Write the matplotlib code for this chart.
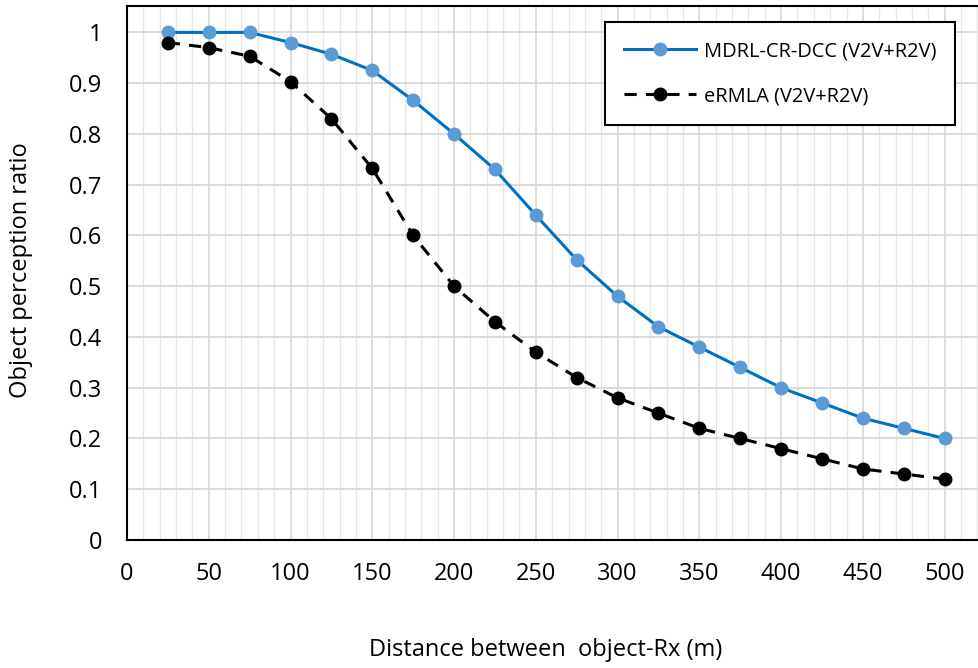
import numpy as np
import matplotlib
matplotlib.use("Agg")
import matplotlib.pyplot as plt
from matplotlib.ticker import MultipleLocator

# ---------------------------------------------------------------------
# Data
# ---------------------------------------------------------------------
distance = [25, 50, 75, 100, 125, 150, 175, 200, 225, 250,
            275, 300, 325, 350, 375, 400, 425, 450, 475, 500]
mdrl = [1.0, 1.0, 1.0, 0.98, 0.957, 0.925, 0.866, 0.80, 0.73, 0.64,
        0.552, 0.48, 0.42, 0.38, 0.34, 0.30, 0.27, 0.24, 0.22, 0.20]
ermla = [0.98, 0.97, 0.953, 0.903, 0.83, 0.732, 0.60, 0.50, 0.43, 0.37,
         0.32, 0.28, 0.25, 0.22, 0.20, 0.18, 0.16, 0.14, 0.13, 0.12]
y_ticks = [0, 0.1, 0.2, 0.3, 0.4, 0.5, 0.6, 0.7, 0.8, 0.9, 1.0]
y_tick_labels = ["0", "0.1", "0.2", "0.3", "0.4", "0.5", "0.6", "0.7", "0.8", "0.9", "1"]

plt.rcParams["font.family"] = ["Open Sans", "DejaVu Sans"]

fig = plt.figure(figsize=(9.79, 6.68), dpi=100)
ax = fig.add_axes([0.1297, 0.1916, 0.8703, 0.7994])

ax.plot(distance, mdrl, color="#0070C0", lw=2.2, marker="o", ms=9,
        mfc="#5B9BD5", mec="#5B9BD5", label="MDRL-CR-DCC (V2V+R2V)", zorder=3)
ax.plot(distance, ermla, color="black", lw=2.2, ls=(0, (4, 3)), marker="o", ms=9,
        mfc="black", mec="black", label="eRMLA (V2V+R2V)", zorder=3)

ax.set_xlim(0, 521)
ax.set_ylim(0, 1.052)
ax.xaxis.set_major_locator(MultipleLocator(50))
ax.xaxis.set_minor_locator(MultipleLocator(10))
ax.set_yticks(y_ticks)
ax.set_yticklabels(y_tick_labels)

ax.grid(which="major", color="#d9d9d9", lw=1.3)
ax.grid(which="minor", axis="x", color="#e6e6e6", lw=1.0)
ax.set_axisbelow(True)

ax.tick_params(which="both", length=0, labelsize=17)
ax.tick_params(axis="y", pad=18)
ax.tick_params(axis="x", pad=16)
for side in ["left", "bottom", "top"]:
    ax.spines[side].set_color("black")
    ax.spines[side].set_linewidth(1.5)
ax.spines["right"].set_visible(False)

fig.text(0.021, 0.596, "Object perception ratio", fontsize=17, rotation=90,
         ha="center", va="center")
fig.text(0.557, 0.027, "Distance between  object-Rx (m)", fontsize=17,
         ha="center", va="center")

leg = ax.legend(loc="upper right", bbox_to_anchor=(0.972, 0.970), fontsize=14.4,
                frameon=True, fancybox=False, edgecolor="black", framealpha=1,
                borderpad=0.95, labelspacing=1.25, handlelength=3.6,
                handletextpad=0.4, borderaxespad=0)
leg.get_frame().set_linewidth(1.5)

fig.savefig("out.png", dpi=100)
